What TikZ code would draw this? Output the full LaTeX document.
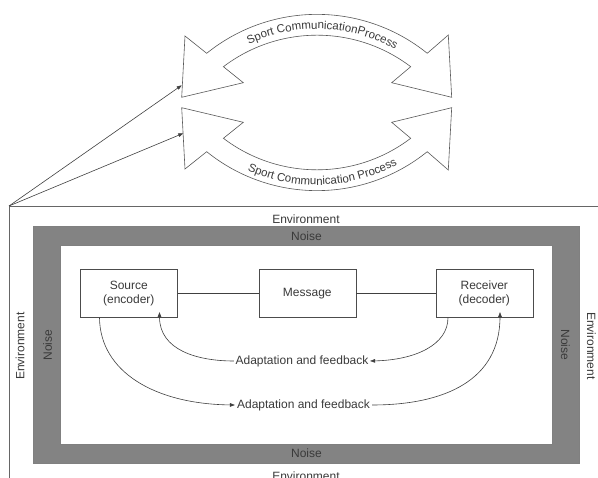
\documentclass[tikz,border=0pt]{standalone}
\usepackage{fontspec}
\setmainfont{Liberation Sans}
\usetikzlibrary{arrows.meta,decorations.text}
\definecolor{noisegray}{HTML}{838383}
\definecolor{inkgray}{HTML}{3A3A3A}
\begin{document}
\begin{tikzpicture}[x=1pt,y=-1pt,
  lbl/.style={font=\fontsize{12}{14}\selectfont, text=inkgray, inner sep=1pt},
  boxnode/.style={draw=black!70, line width=0.6pt, fill=white, minimum width=97pt, minimum height=48pt, align=center, font=\fontsize{12}{14}\selectfont, text=inkgray, anchor=north west, inner sep=2pt},
  band/.style={draw=black!65, fill=white, line width=0.6pt, line join=miter},
  conn/.style={draw=black!75, line width=0.6pt},
  arr/.style={conn, -{Triangle[length=5pt,width=3.6pt]}},
  bandtext/.style={decorate, decoration={text along path, text align=center, text color=inkgray}}
]
\clip (0,0) rectangle (598,478);
\fill[white] (0,0) rectangle (598,478);

% upper double arrow (top band)
\path[band] (206.7,53.3) arc[start angle=-128.9, end angle=-51.1, radius=175.6]
  -- (448.3,35) -- (451.7,97.3) -- (391.7,82.7) -- (410.7,66.7)
  arc[start angle=-52.8, end angle=-127.2, radius=154.9]
  -- (243.3,82.7) -- (181.7,97.3) -- (185,36) -- cycle;
\path[bandtext, decoration={text={|\fontsize{11.5}{13}\selectfont|Sport CommunicationProcess}}]
  (317,190) ++(-127:161) arc[start angle=-127, end angle=-49, radius=161];

% lower double arrow (bottom band)
\path[band] (206.7,151.7) arc[start angle=128.9, end angle=51.1, radius=175.6]
  -- (448.3,170) -- (451.7,107.7) -- (391.7,122.3) -- (410.7,138.3)
  arc[start angle=52.8, end angle=127.2, radius=154.9]
  -- (243.3,122.3) -- (181.7,107.7) -- (185,169) -- cycle;
\path[bandtext, decoration={text={|\fontsize{11.5}{13}\selectfont|Sport Communication Process}}]
  (317,15) ++(127:170) arc[start angle=127, end angle=49, radius=170];

% environment frame
\coordinate (envc) at (9,206);
\coordinate (envr) at (598,206);
\coordinate (envb) at (9,478);
\draw[draw=black!60, line width=0.7pt] (envr) -- (envc) -- (envb);
\coordinate (tipA) at (181.7,85.3);
\coordinate (tipB) at (183.3,133.3);
\draw[arr] (envc) -- (tipA);
\draw[arr] (envc) -- (tipB);

% noise band
\filldraw[fill=noisegray, draw=black!50, line width=0.5pt] (33,226.7) rectangle (579,463);
\filldraw[fill=white, draw=black!50, line width=0.5pt] (60.7,245) rectangle (552.7,444);

% labels
\node[lbl] (envT) at (306,219) {Environment};
\node[lbl] (noiseT) at (306.5,236.7) {Noise};
\node[lbl] (noiseB) at (306.5,453.5) {Noise};
\node[lbl] (envB) at (306,476) {Environment};
\node[lbl, rotate=90] (envL) at (20,346) {Environment};
\node[lbl, rotate=90] (noiseL) at (47.5,345) {Noise};
\node[lbl, rotate=-90] (noiseR) at (565.5,345) {Noise};
\node[lbl, rotate=-90] (envR) at (591.5,346) {Environment};

% boxes
\node[boxnode] (src) at (80,269) {Source\\(encoder)};
\node[boxnode] (msg) at (258.5,269) {Message};
\node[boxnode] (rcv) at (435.5,269) {Receiver\\(decoder)};
\draw[conn] (src.east) -- (msg.west);
\draw[conn] (msg.east) -- (rcv.west);

% feedback labels
\node[lbl, inner sep=1.5pt] (fb1) at (302,361) {Adaptation and feedback};
\node[lbl, inner sep=2pt] (fb2) at (303.5,405) {Adaptation and feedback};

% feedback curves
\draw[arr] ([xshift=12.5pt]rcv.south west) .. controls (448,345) and (415,360) .. (fb1.east);
\draw[arr] (fb1.west) .. controls (197,361) and (159.5,350) .. ([xshift=79.5pt,yshift=5.5pt]src.south west);
\draw[arr] ([xshift=19.5pt]src.south west) .. controls (100,372) and (155,404) .. (fb2.west);
\draw[arr] (fb2.east) .. controls (445,405) and (500,380) .. ([xshift=64.5pt,yshift=5.5pt]rcv.south west);
\end{tikzpicture}
\end{document}
